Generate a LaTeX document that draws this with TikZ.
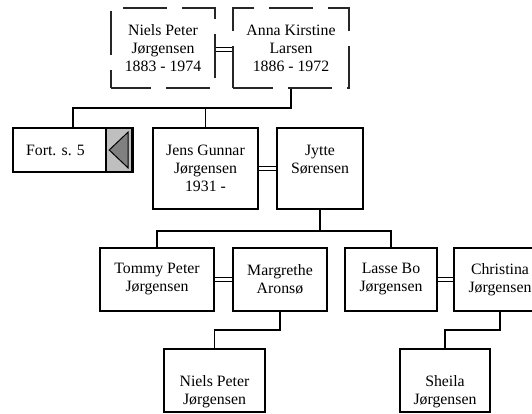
\documentclass[tikz,border=0pt]{standalone}
\usepackage{fontspec}
\setmainfont{Liberation Serif}
\begin{document}
\begin{tikzpicture}[x=1pt,y=-1pt,
  every node/.style={font=\fontsize{15.8}{18}\selectfont, align=center, inner sep=0pt},
  pbox/.style={draw, line width=1.6pt, fill=white},
  dbox/.style={draw=black!85, line width=1.1pt, dash pattern=on 44pt off 15pt, dash phase=4pt},
  conn/.style={line width=1.6pt},
  marr/.style={double, line width=1.1pt, double distance=2.6pt}]
\useasboundingbox (0,0) rectangle (532,413);
\begin{scope}
\clip (0,0) rectangle (532,413);
% generation 1
\node[dbox, minimum width=104pt, minimum height=80pt] (n1) at (163,48) {Niels Peter\\Jørgensen\\1883 - 1974};
\node[dbox, minimum width=116pt, minimum height=80pt] (a1) at (291,48) {Anna Kirstine\\Larsen\\1886 - 1972};
% generation 2
\node[minimum width=120pt, minimum height=44pt, fill=white] (fort) at (73,150) {};
\node (fortt) at (55.5,150) {Fort. s. 5};
\node[pbox, minimum width=105pt, minimum height=81pt] (jens) at (205.5,168.5) {Jens Gunnar\\Jørgensen\\1931 -};
\node[pbox, minimum width=86pt, minimum height=81pt] (jytte) at (320,168.5) {Jytte\\Sørensen\\\mbox{}};
% generation 3
\node[pbox, minimum width=114pt, minimum height=63pt] (tommy) at (157,279.5) {Tommy Peter\\Jørgensen};
\node[pbox, minimum width=94pt, minimum height=63pt] (marg) at (280,279.5) {Margrethe\\Aronsø};
\node[pbox, minimum width=92pt, minimum height=63pt] (lasse) at (391,279.5) {Lasse Bo\\Jørgensen};
\node[pbox, minimum width=92pt, minimum height=63pt] (chris) at (500,279.5) {Christina\\Jørgensen};
% generation 4
\node[pbox, minimum width=101pt, minimum height=63pt] (niels2) at (214.5,380.5) {};
\node (niels2t) at ([yshift=-11.5pt]niels2.center) {Niels Peter\\Jørgensen};
\node[pbox, minimum width=90pt, minimum height=63pt] (sheila) at (445,380.5) {};
\node (sheilat) at ([yshift=-11.5pt]sheila.center) {Sheila\\Jørgensen};
% Fort. s. 5 arrow part
\fill[black!25] ([xshift=-27pt]fort.north east) rectangle (fort.south east);
\draw[line width=1.6pt] ([xshift=-27pt]fort.north east) -- ([xshift=-27pt]fort.south east);
\draw[line width=1.6pt] (fort.north west) rectangle (fort.south east);
\draw[line width=1pt] ([xshift=-1.5pt]fort.north east) -- ([xshift=-1.5pt]fort.south east);
\coordinate (tip) at ([xshift=-24pt]fort.east);
\coordinate (b1) at ([xshift=-5pt,yshift=18pt]fort.east);
\coordinate (b2) at ([xshift=-5pt,yshift=-18pt]fort.east);
\filldraw[fill=black!50, draw=black, line width=1pt] (tip) -- (b1) -- (b2) -- cycle;
% marriages
\draw[marr] ([yshift=-1.5pt]n1.east) -- ([yshift=-1.5pt]a1.west);
\draw[marr] (jens.east) -- (jytte.west);
\draw[marr] (tommy.east) -- (marg.west);
\draw[marr] (lasse.east) -- (chris.west);
% descents
\coordinate (j1) at (291,108);
\draw[conn] (a1.south) -- (j1) -| (fort.north);
\draw[conn] (j1) -| (jens.north);
\coordinate (j2) at (320,231);
\draw[conn] (jytte.south) -- (j2) -| (tommy.north);
\draw[conn] (j2) -| (lasse.north);
\coordinate (j3) at (280,330);
\draw[conn] (marg.south) -- (j3) -| (niels2.north);
\coordinate (j4) at (500,330);
\draw[conn] (chris.south) -- (j4) -| (sheila.north);
\end{scope}
\end{tikzpicture}
\end{document}
